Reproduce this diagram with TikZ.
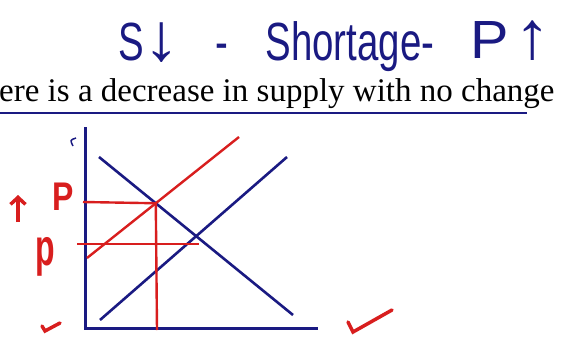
\documentclass[tikz,border=0pt]{standalone}
\usepackage{fontspec}
\usetikzlibrary{arrows.meta}
\setmainfont{Liberation Serif}
\newfontfamily\handfont{Liberation Sans}
\definecolor{navy}{HTML}{1A1A82}
\definecolor{pen}{HTML}{D81E1E}
\newcommand\tallarrow[1]{\scalebox{1.9}[1.25]{#1}}
\tikzset{
  curve/.style={navy, line width=2.6pt},
  shift line/.style={pen, line width=2.4pt},
  axis/.style={navy, line width=3pt},
  hand/.style={navy, font=\handfont\fontsize{48}{48}\selectfont, inner sep=0pt,
    transform shape, xscale=0.8, yscale=1.12},
  redhand/.style={pen, font=\handfont\bfseries\fontsize{40}{40}\selectfont, inner sep=0pt,
    transform shape, xscale=0.8}
}
\begin{document}
\begin{tikzpicture}[x=1pt, y=-1pt]
  \useasboundingbox (0,0) rectangle (565,340);
  % heading
  \node[hand, anchor=base west] (sdown) at (118,60) {S\tallarrow{↓}};
  \node[hand, anchor=base] (dash) at (222,60) {-};
  \node[hand, anchor=base] (short) at (350,60) {Shortage-};
  \node[hand, anchor=base west] (pup) at (470,58) {\scalebox{1.5}[1]{P}\,\tallarrow{↑}};
  \node[anchor=base west, inner sep=0pt, font=\fontsize{33}{33}\selectfont] (title) at (-1,101)
    {ere is a decrease in supply with no change};
  \draw[navy, line width=2pt] (0,113) -- (527,113);
  % axes
  \coordinate (origin) at (85,328);
  \coordinate (ytop) at (85,127);
  \coordinate (xend) at (318,328);
  \draw[axis] (ytop) -- (origin) -- (xend);
  \draw[navy, line width=1.5pt] (76,138) .. controls (70,140) .. (73,146);
  % demand and supply
  \coordinate (d1) at (99,157);
  \coordinate (d2) at (293,315);
  \coordinate (s1) at (100,320);
  \coordinate (s2) at (287,157);
  \coordinate (t1) at (87,258);
  \coordinate (t2) at (239,137);
  \draw[curve] (d1) -- (d2);
  \draw[curve] (s1) -- (s2);
  \draw[shift line] (t1) -- (t2);
  \coordinate (eq) at (intersection of d1--d2 and t1--t2);
  \coordinate (pleft) at (83,202);
  \coordinate (qbot) at (157,330);
  \draw[shift line] (pleft) -- (eq) -- (qbot);
  \coordinate (oldl) at (77,244);
  \coordinate (oldr) at (199,244);
  \draw[shift line] (oldl) -- (oldr);
  % red notes
  \node[redhand] (pnew) at (63,197) {P};
  \node[redhand, yscale=1.3] (pold) at (45,257) {p};
  \coordinate (arrbot) at (18,222);
  \coordinate (arrtop) at (18,195);
  \draw[pen, line width=3.5pt, -{Straight Barb[length=7pt, width=15pt]}] (arrbot) -- (arrtop);
  \draw[pen, line width=3.5pt, line cap=round] (42,326) -- (45,331) -- (60,323);
  \draw[pen, line width=3.5pt, line cap=round] (348,322) -- (353,332) -- (392,310);
\end{tikzpicture}
\end{document}
